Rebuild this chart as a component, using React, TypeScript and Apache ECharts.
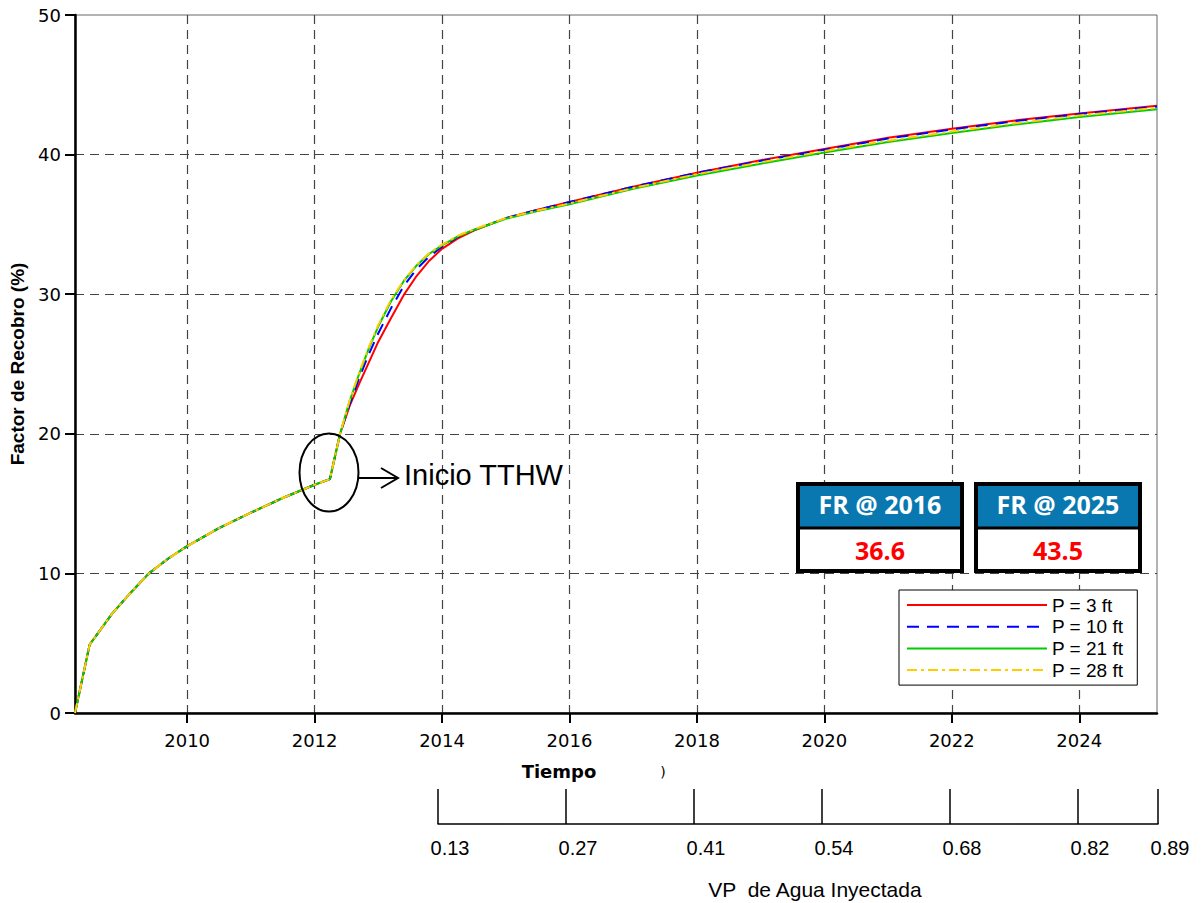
import React, { useEffect, useRef } from "react";
import * as echarts from "echarts";

// ---- data ----
const years = [
  2008.24, 2008.47, 2008.82, 2009.11, 2009.4, 2009.7, 2010, 2010.5, 2011, 2011.5, 2012, 2012.24,
  2012.4, 2012.55, 2012.7, 2012.85, 2013.0, 2013.2, 2013.4, 2013.6, 2013.8, 2014, 2014.25, 2014.5, 2015,
  2015.5, 2016, 2017, 2018, 2019, 2020, 2021, 2022, 2023, 2024, 2025.22,
];
// shared history before TTHW start (first 13 points)
const earlyFR = [0, 4.9, 7.1, 8.6, 10.0, 11.05, 11.95, 13.25, 14.35, 15.4, 16.35, 16.75, 20.0];
const frP3 = [22.0, 23.6, 25.1, 26.6, 28.3, 29.95, 31.3, 32.4, 33.25, 34.0, 34.55, 35.45, 36.05, 36.6, 37.7, 38.7, 39.6, 40.4, 41.2, 41.85, 42.45, 42.95, 43.5];
const frP10 = [22.1, 24.0, 25.7, 27.2, 29.0, 30.6, 31.8, 32.7, 33.4, 34.1, 34.6, 35.45, 36.05, 36.6, 37.7, 38.7, 39.55, 40.35, 41.15, 41.8, 42.4, 42.9, 43.45];
const frP21 = [22.35, 24.3, 26.1, 27.7, 29.5, 30.95, 32.05, 32.9, 33.5, 34.15, 34.6, 35.4, 35.95, 36.45, 37.55, 38.5, 39.35, 40.15, 40.9, 41.55, 42.15, 42.7, 43.25];
const frP28 = [22.4, 24.4, 26.2, 27.8, 29.6, 31.0, 32.1, 32.95, 33.55, 34.2, 34.65, 35.45, 36.0, 36.5, 37.6, 38.6, 39.45, 40.25, 41.0, 41.65, 42.25, 42.8, 43.35];
const seriesNames = ["P = 3 ft", "P = 10 ft", "P = 21 ft", "P = 28 ft"];

const yearTicks = [2010, 2012, 2014, 2016, 2018, 2020, 2022, 2024];
const vpYears = [2014, 2016, 2018, 2020, 2022, 2024, 2025.25];
const vpLabels = ["0.13", "0.27", "0.41", "0.54", "0.68", "0.82", "0.89"];

const frBoxTitles = ["FR @ 2016", "FR @ 2025"];
const frBoxValues = ["36.6", "43.5"];

const X_MIN = 2008.24;
const X_MAX = 2025.22;

function toPairs(post: number[]) {
  const vals = earlyFR.concat(post);
  return years.map((y, i) => [y, vals[i]]);
}

export default function App() {
  const ref = useRef<HTMLDivElement>(null);

  useEffect(() => {
    if (!ref.current) return;
    const chart = echarts.init(ref.current, null, { renderer: "svg" });

    const mkSeries = (name: string, post: number[], color: string, type: any) => ({
      name,
      type: "line",
      xAxisIndex: 0,
      yAxisIndex: 0,
      data: toPairs(post),
      symbol: "none",
      showSymbol: false,
      smooth: false,
      lineStyle: { color, width: 2, type },
      itemStyle: { color },
    });

    const boxW = 168;
    const boxLefts = [796, 974];
    const boxTop = 482;
    const boxH = 91;
    const boxGraphics: any[] = [];
    boxLefts.forEach((bx, i) => {
      boxGraphics.push({
        type: "rect",
        z: 100,
        shape: { x: bx + 2, y: boxTop + 2, width: boxW - 4, height: boxH - 4 },
        style: { fill: "#ffffff", stroke: "#000000", lineWidth: 4 },
      });
      boxGraphics.push({
        type: "rect",
        z: 101,
        shape: { x: bx + 4, y: boxTop + 4, width: boxW - 8, height: 41 },
        style: { fill: "#0A78B0" },
      });
      boxGraphics.push({
        type: "line",
        z: 102,
        shape: { x1: bx + 2, y1: boxTop + 46, x2: bx + boxW - 2, y2: boxTop + 46 },
        style: { stroke: "#000000", lineWidth: 3 },
      });
      boxGraphics.push({
        type: "text",
        z: 103,
        x: bx + boxW / 2,
        y: boxTop + 22,
        style: {
          text: frBoxTitles[i],
          fill: "#ffffff",
          fontFamily: "Open Sans",
          fontWeight: "bold",
          fontSize: 25,
          align: "center",
          verticalAlign: "middle",
        },
      });
      boxGraphics.push({
        type: "text",
        z: 103,
        x: bx + boxW / 2,
        y: boxTop + 68,
        style: {
          text: frBoxValues[i],
          fill: "#ff0000",
          fontFamily: "Open Sans",
          fontWeight: "bold",
          fontSize: 25,
          align: "center",
          verticalAlign: "middle",
        },
      });
    });

    const option: any = {
      animation: false,
      backgroundColor: "#ffffff",
      textStyle: { fontFamily: "Liberation Sans, Arial, sans-serif" },
      grid: [
        {
          left: 75, top: 15, width: 1082, height: 698, show: true, borderColor: "#666", borderWidth: 1,
          containLabel: false, outerBoundsMode: "none",
        },
        { left: 438, top: 789, width: 720, height: 35, show: false, containLabel: false, outerBoundsMode: "none" },
      ],
      xAxis: [
        {
          type: "value",
          gridIndex: 0,
          min: X_MIN,
          max: X_MAX,
          axisLine: { show: true, onZero: false, lineStyle: { color: "#000", width: 2.5 } },
          axisTick: { show: true, length: 10, customValues: yearTicks, lineStyle: { color: "#000", width: 2 } },
          axisLabel: {
            customValues: yearTicks,
            margin: 18,
            color: "#000",
            fontFamily: "DejaVu Sans",
            fontSize: 18,
            formatter: (v: number) => String(Math.round(v)),
          },
          splitLine: { show: true, lineStyle: { color: "#444", width: 1.2, type: [9, 6] } },
        },
        {
          type: "value",
          gridIndex: 1,
          min: 2014,
          max: 2025.25,
          axisLine: { show: true, onZero: false, lineStyle: { color: "#000", width: 1.5 } },
          axisTick: { show: true, inside: true, length: 35, customValues: vpYears, lineStyle: { color: "#000", width: 1.5 } },
          axisLabel: {
            customValues: vpYears,
            margin: 14,
            color: "#000",
            fontFamily: "Liberation Sans, Arial",
            fontSize: 20,
            padding: [0, 0, 0, 24],
            formatter: (v: number) => {
              const idx = vpYears.findIndex((y) => Math.abs(y - v) < 1e-6);
              return idx >= 0 ? vpLabels[idx] : "";
            },
          },
          splitLine: { show: false },
        },
      ],
      yAxis: [
        {
          type: "value",
          gridIndex: 0,
          min: 0,
          max: 50,
          interval: 10,
          name: "Factor de Recobro (%)",
          nameLocation: "middle",
          nameGap: 47,
          nameTextStyle: { fontFamily: "Liberation Sans, Arial", fontWeight: "bold", fontSize: 19, color: "#000" },
          axisLine: { show: true, onZero: false, lineStyle: { color: "#000", width: 2.5 } },
          axisTick: { show: true, length: 10, lineStyle: { color: "#000", width: 2 } },
          axisLabel: { margin: 14, color: "#000", fontFamily: "DejaVu Sans", fontSize: 18 },
          splitLine: {
            show: true,
            showMinLine: false,
            showMaxLine: false,
            lineStyle: { color: "#444", width: 1.2, type: [9, 6] },
          },
        },
        { type: "value", gridIndex: 1, show: false, min: 0, max: 1 },
      ],
      legend: {
        orient: "vertical",
        left: 899,
        top: 590,
        padding: [5, 14, 5, 7],
        itemWidth: 140,
        itemHeight: 14,
        itemGap: 1.7,
        backgroundColor: "#ffffff",
        borderColor: "#000",
        borderWidth: 1,
        borderRadius: 0,
        itemStyle: { opacity: 0 },
        textStyle: { fontSize: 19, lineHeight: 20, color: "#000", fontFamily: "Liberation Sans, Arial" },
        data: seriesNames,
      },
      series: [
        mkSeries(seriesNames[0], frP3, "#ff0000", "solid"),
        mkSeries(seriesNames[1], frP10, "#0000ff", [12, 8]),
        mkSeries(seriesNames[2], frP21, "#00cc00", "solid"),
        mkSeries(seriesNames[3], frP28, "#ffcc00", [10, 4, 3, 4]),
      ],
      graphic: {
        elements: [
          {
            type: "ellipse",
            z: 100,
            shape: { cx: 329, cy: 472.5, rx: 29.5, ry: 39 },
            style: { fill: "none", stroke: "#000", lineWidth: 2 },
          },
          {
            type: "line",
            z: 100,
            shape: { x1: 358, y1: 478, x2: 397, y2: 478 },
            style: { stroke: "#000", lineWidth: 2 },
          },
          {
            type: "polyline",
            z: 100,
            shape: { points: [[381, 468], [398, 478], [381, 488]] },
            style: { stroke: "#000", lineWidth: 2, fill: "none" },
          },
          {
            type: "text",
            z: 100,
            x: 404,
            y: 475,
            style: {
              text: "Inicio TTHW",
              fill: "#000",
              fontFamily: "Liberation Sans, Arial",
              fontSize: 29,
              align: "left",
              verticalAlign: "middle",
            },
          },
          {
            type: "text",
            z: 100,
            x: 559,
            y: 771,
            style: {
              text: "Tiempo",
              fill: "#000",
              fontFamily: "DejaVu Sans",
              fontWeight: "bold",
              fontSize: 18,
              align: "center",
              verticalAlign: "middle",
            },
          },
          {
            type: "text",
            z: 100,
            x: 663,
            y: 772,
            style: {
              text: ")",
              fill: "#000",
              fontFamily: "DejaVu Sans",
              fontSize: 14,
              align: "center",
              verticalAlign: "middle",
            },
          },
          {
            type: "text",
            z: 100,
            x: 815,
            y: 889,
            style: {
              text: "VP  de Agua Inyectada",
              fill: "#000",
              fontFamily: "Liberation Sans, Arial",
              fontSize: 21,
              align: "center",
              verticalAlign: "middle",
            },
          },
          ...boxGraphics,
        ],
      },
    };

    chart.setOption(option);
    return () => {
      chart.dispose();
    };
  }, []);

  return (
    <div
      ref={ref}
      style={{ position: "fixed", left: 0, top: 0, width: 1204, height: 903, background: "#fff" }}
    />
  );
}
